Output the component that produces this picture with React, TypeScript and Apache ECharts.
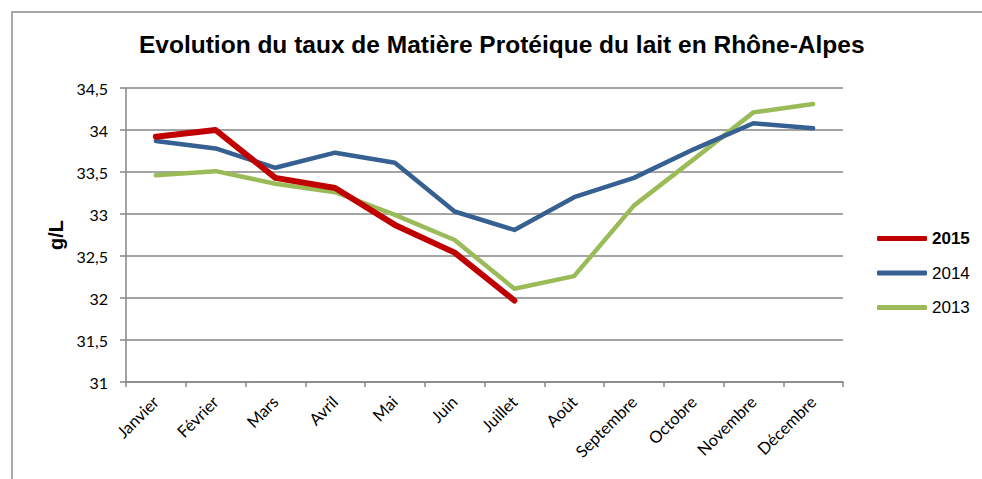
import React, { useEffect, useRef } from "react";
import * as echarts from "echarts";

const months = ["Janvier", "Février", "Mars", "Avril", "Mai", "Juin", "Juillet", "Août", "Septembre", "Octobre", "Novembre", "Décembre"];
const values2015 = [33.92, 34.0, 33.43, 33.31, 32.87, 32.54, 31.97];
const values2014 = [33.87, 33.78, 33.55, 33.73, 33.61, 33.03, 32.81, 33.2, 33.43, 33.77, 34.08, 34.02];
const values2013 = [33.46, 33.51, 33.36, 33.26, 32.99, 32.69, 32.11, 32.26, 33.1, 33.65, 34.21, 34.31];
const titleText = "Evolution du taux de Matière Protéique du lait en Rhône-Alpes";
const yName = "g/L";

export default function App() {
  const ref = useRef<HTMLDivElement>(null);
  useEffect(() => {
    if (!ref.current) return;
    const chart = echarts.init(ref.current, null, { renderer: "svg" });
    const axisColor = "#868686";
    const labelFont = "Lato, 'Open Sans', sans-serif";
    chart.setOption({
      animation: false,
      backgroundColor: "#ffffff",
      title: {
        text: titleText,
        left: 134,
        top: 27,
        textStyle: { fontFamily: "'Liberation Sans', Arial, sans-serif", fontWeight: "bold", fontSize: 24.5, color: "#000" },
      },
      graphic: [
        {
          type: "rect",
          shape: { x: 12, y: 12, width: 1000, height: 500 },
          style: { fill: "none", stroke: "#8c8c8c", lineWidth: 1.5 },
          silent: true,
        },
      ],
      legend: {
        orient: "vertical",
        left: 872,
        top: 225,
        itemWidth: 50,
        itemHeight: 5,
        itemGap: 17.5,
        icon: "roundRect",
        textStyle: { fontFamily: "'Liberation Sans', Arial, sans-serif", fontSize: 17, color: "#000" },
        data: [
          { name: "2015", textStyle: { fontWeight: "bold" } },
          { name: "2014" },
          { name: "2013" },
        ],
      },
      grid: { left: 126, right: 139, top: 88, bottom: 97, containLabel: false },
      xAxis: {
        type: "category",
        data: months,
        boundaryGap: true,
        axisLine: { show: true, lineStyle: { color: axisColor, width: 1.5 } },
        axisTick: { show: true, length: 5, alignWithLabel: false, lineStyle: { color: axisColor, width: 1.5 } },
        axisLabel: { rotate: 45, interval: 0, margin: 17, fontFamily: labelFont, fontSize: 16.5, color: "#000" },
        splitLine: { show: false },
      },
      yAxis: {
        type: "value",
        min: 31,
        max: 34.5,
        interval: 0.5,
        name: yName,
        nameLocation: "middle",
        nameRotate: 90,
        nameGap: 58,
        nameTextStyle: { fontFamily: "'Liberation Sans', Arial, sans-serif", fontWeight: "bold", fontSize: 20, color: "#000" },
        axisLine: { show: true, lineStyle: { color: axisColor, width: 1.5 } },
        axisTick: { show: true, length: 6, lineStyle: { color: axisColor, width: 1.5 } },
        axisLabel: {
          margin: 18,
          fontFamily: labelFont,
          fontSize: 16,
          color: "#000",
          formatter: (v: number) => String(v).replace(".", ","),
        },
        splitLine: { show: true, lineStyle: { color: axisColor, width: 1.5 } },
      },
      series: [
        {
          name: "2013",
          type: "line",
          data: values2013,
          showSymbol: false,
          symbol: "none",
          color: "#9BBB59",
          lineStyle: { width: 4.5, color: "#9BBB59", cap: "round", join: "round" },
          z: 2,
        },
        {
          name: "2014",
          type: "line",
          data: values2014,
          showSymbol: false,
          symbol: "none",
          color: "#376092",
          lineStyle: { width: 4.5, color: "#376092", cap: "round", join: "round" },
          z: 3,
        },
        {
          name: "2015",
          type: "line",
          data: values2015,
          showSymbol: false,
          symbol: "none",
          color: "#C00000",
          lineStyle: { width: 6, color: "#C00000", cap: "round", join: "round" },
          z: 4,
        },
      ],
    });
    return () => chart.dispose();
  }, []);
  return <div ref={ref} style={{ width: 982, height: 479, position: "absolute", left: 0, top: 0 }} />;
}
